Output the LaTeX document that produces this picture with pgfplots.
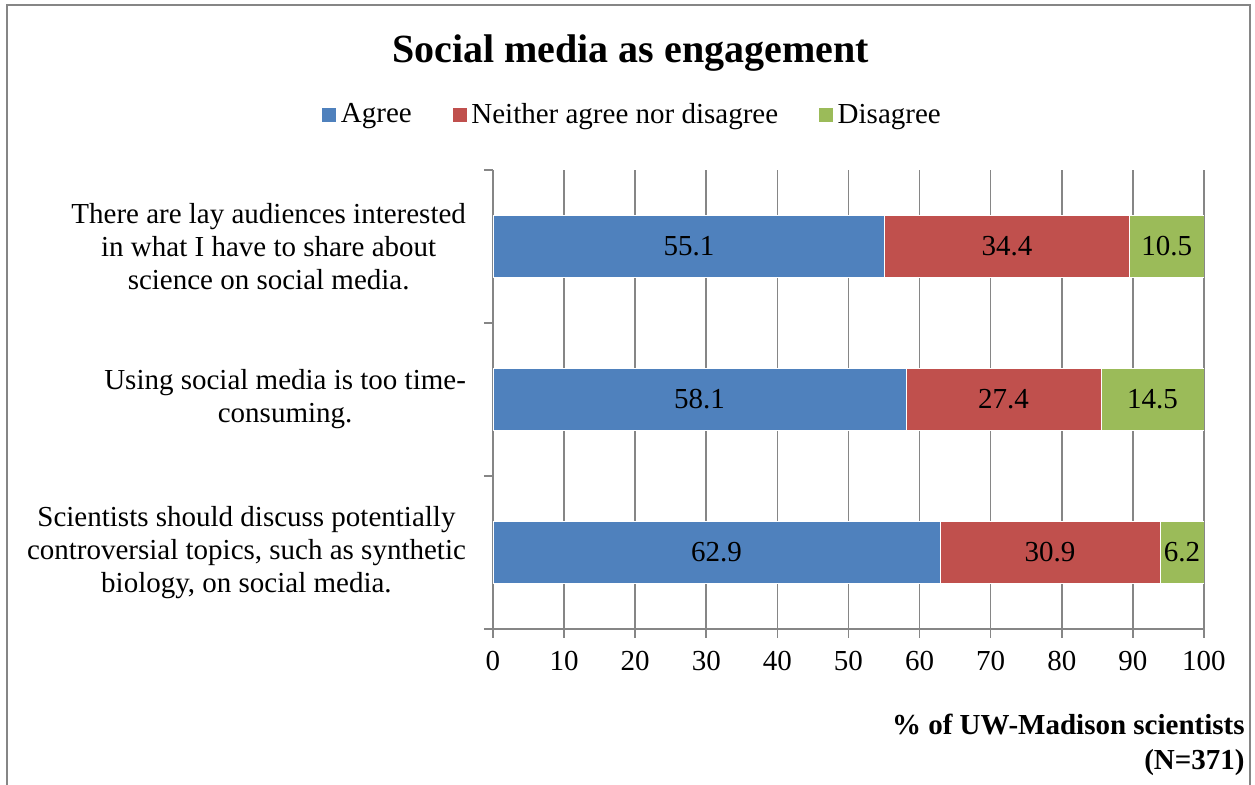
\documentclass[border=0pt]{standalone}
\usepackage{pgfplots}
\pgfplotsset{compat=1.18}
\usepackage{fontspec}
\setmainfont{Liberation Serif}
\definecolor{cA}{RGB}{79,129,189}
\definecolor{cN}{RGB}{192,80,77}
\definecolor{cD}{RGB}{155,187,89}
\definecolor{gridgray}{RGB}{134,134,134}
\begin{document}
\begin{tikzpicture}
\useasboundingbox (0,0) rectangle (627.5pt,392.5pt);
\draw[gridgray, line width=0.8pt] (3.5pt,0) -- (3.5pt,390pt) -- (625pt,390pt) -- (625pt,0);
\node[font=\fontsize{20}{24}\selectfont\bfseries, anchor=base] at (315.25pt,361pt) {Social media as engagement};
\begin{axis}[
  at={(246.5pt,78pt)}, anchor=south west,
  scale only axis, width=355.5pt, height=229.5pt,
  xbar stacked, bar width=31pt,
  xmin=0, xmax=100, ymin=-0.5, ymax=2.5,
  xtick={0,10,...,100},
  ytick={0,1,2},
  yticklabels={{Scientists should discuss potentially\\controversial topics, such as synthetic\\biology, on social media.},{Using social media is too time-\\consuming.},{There are lay audiences interested\\in what I have to share about\\science on social media.}},
  yticklabel style={align=center, xshift=-5.5pt},
  xticklabel style={yshift=-3pt},
  tick label style={font=\fontsize{14.5}{16.5}\selectfont},
  /pgf/number format/assume math mode=true,
  axis x line*=bottom, axis y line*=left,
  axis line style={gridgray, line width=0.8pt},
  xmajorgrids, grid style={gridgray, line width=0.8pt},
  tick align=outside,
  major tick length=4.5pt,
  ytick style={draw=none},
  xtick style={gridgray, line width=0.8pt},
  extra y ticks={-0.5,0.5,1.5,2.5},
  extra y tick labels={},
  extra y tick style={ytick style={draw=gridgray, line width=0.8pt}, ymajorgrids=false},
  nodes near coords,
  nodes near coords style={font=\fontsize{14.5}{16.5}\selectfont, text=black, anchor=center},
  legend columns=3,
  legend style={at={(0.197,1.12)}, anchor=center, draw=none, font=\fontsize{14.5}{16.5}\selectfont, /tikz/every even column/.append style={column sep=18pt}},
  legend image code/.code={\fill[#1] (0pt,-3.75pt) rectangle (7.5pt,3.75pt);},
]
\addplot[fill=cA, draw=white, line width=0.3pt] coordinates {(62.9,0) (58.1,1) (55.1,2)};
\addplot[fill=cN, draw=white, line width=0.3pt] coordinates {(30.9,0) (27.4,1) (34.4,2)};
\addplot[fill=cD, draw=white, line width=0.3pt] coordinates {(6.2,0) (14.5,1) (10.5,2)};
\legend{Agree, Neither agree nor disagree, Disagree}
\end{axis}
\node[font=\fontsize{14.5}{17.5}\selectfont\bfseries, align=right, anchor=north east, inner sep=0pt] at (622.5pt,35.5pt) {\% of UW-Madison scientists\\(N=371)};
\end{tikzpicture}
\end{document}
